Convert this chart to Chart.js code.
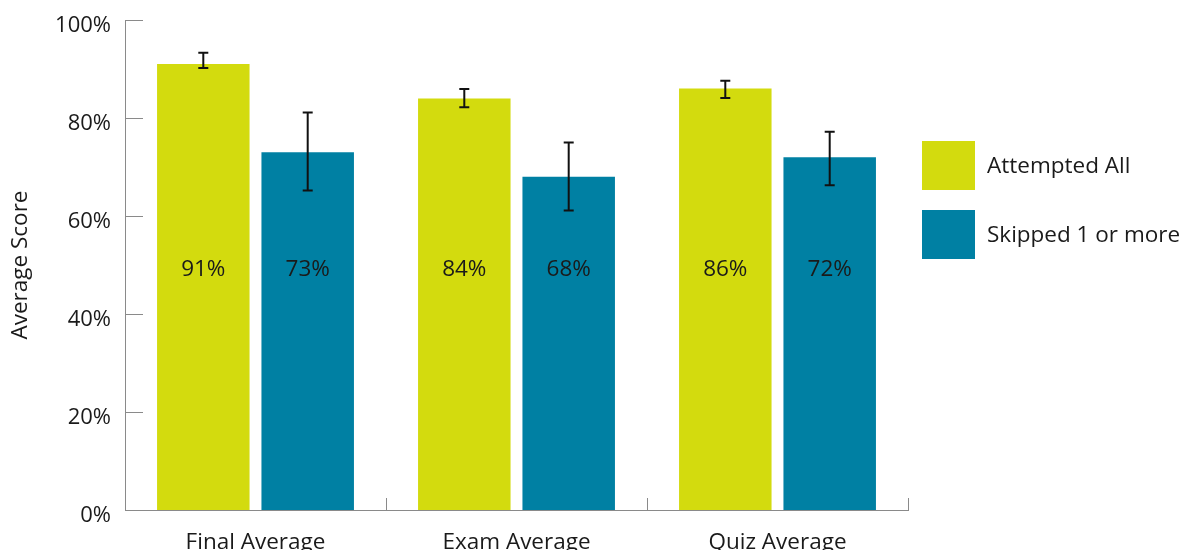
<!DOCTYPE html>
<html>
<head>
<meta charset="utf-8">
<script src="https://cdn.jsdelivr.net/npm/chart.js@4.4.1/dist/chart.umd.min.js"></script>
<style>
    html, body { margin: 0; padding: 0; background: #ffffff; }
    #wrap { width: 1182px; height: 550px; }
</style>
</head>
<body>
<div id="wrap"><canvas id="grafico"></canvas></div>
<script>
// dados
const categorias = ['Final Average', 'Exam Average', 'Quiz Average'];
const series = ['Attempted All', 'Skipped 1 or more'];
const attempted = [91, 84, 86];
const skipped = [73, 68, 72];
const attemptedLow = [90.2, 82.2, 84.1];
const attemptedHigh = [93.3, 85.9, 87.6];
const skippedLow = [65.2, 61.1, 66.3];
const skippedHigh = [81.1, 75.0, 77.2];
const yTicks = [0, 20, 40, 60, 80, 100];

const corVerde = '#d3db0e';
const corAzul = '#0080a3';
const corEixo = '#8a8a8a';
const fonte = "'Open Sans', sans-serif";

Chart.defaults.font.family = fonte;
Chart.defaults.color = '#1a1a1a';

// barras de erro, rotulos de valor, marcas dos eixos e legenda
const extras = {
    id: 'extras',
    afterDatasetsDraw(chart) {
        const ctx = chart.ctx;
        const y = chart.scales.y;
        const x = chart.scales.x;
        const area = chart.chartArea;
        const erros = [[attemptedLow, attemptedHigh], [skippedLow, skippedHigh]];

        ctx.save();
        // marcas do eixo y (para dentro)
        ctx.strokeStyle = corEixo;
        ctx.lineWidth = 1;
        yTicks.forEach(v => {
            const py = Math.round(y.getPixelForValue(v)) + 0.5;
            ctx.beginPath();
            ctx.moveTo(area.left, py);
            ctx.lineTo(area.left + 18, py);
            ctx.stroke();
        });
        // marcas do eixo x entre categorias
        for (let i = 1; i <= categorias.length; i++) {
            const px = Math.round(x.getPixelForValue(i - 0.5)) + 0.5;
            ctx.beginPath();
            ctx.moveTo(px, area.bottom);
            ctx.lineTo(px, area.bottom - 12);
            ctx.stroke();
        }

        chart.data.datasets.forEach((ds, d) => {
            const meta = chart.getDatasetMeta(d);
            meta.data.forEach((bar, i) => {
                const top = y.getPixelForValue(erros[d][1][i]);
                const bot = y.getPixelForValue(erros[d][0][i]);
                ctx.strokeStyle = '#111111';
                ctx.lineWidth = 2;
                ctx.beginPath();
                ctx.moveTo(bar.x, top);
                ctx.lineTo(bar.x, bot);
                ctx.moveTo(bar.x - 5, top);
                ctx.lineTo(bar.x + 5, top);
                ctx.moveTo(bar.x - 5, bot);
                ctx.lineTo(bar.x + 5, bot);
                ctx.stroke();

                // rotulo do valor, um pouco abaixo da linha de 50%
                ctx.fillStyle = '#1a1a1a';
                ctx.font = '22.5px ' + fonte;
                ctx.textAlign = 'center';
                ctx.textBaseline = 'middle';
                ctx.fillText(ds.data[i] + '%', bar.x, y.getPixelForValue(50) + 5);
            });
        });

        // legenda
        const lx = area.right + 14;
        const cores = [corVerde, corAzul];
        series.forEach((nome, i) => {
            const ly = 141 + i * 69;
            ctx.fillStyle = cores[i];
            ctx.fillRect(lx, ly, 53, 49);
            ctx.fillStyle = '#1a1a1a';
            ctx.font = '22.5px ' + fonte;
            ctx.textAlign = 'left';
            ctx.textBaseline = 'middle';
            ctx.fillText(nome, lx + 65, ly + 26);
        });
        ctx.restore();
    }
};

const grafico = new Chart(document.getElementById('grafico'), {
    type: 'bar',
    data: {
        labels: categorias,
        datasets: [
            { label: series[0], data: attempted, backgroundColor: corVerde },
            { label: series[1], data: skipped, backgroundColor: corAzul }
        ]
    },
    options: {
        responsive: true,
        maintainAspectRatio: false,
        animation: false,
        events: [],
        layout: { padding: { top: 20, right: 274, left: 0, bottom: 0 } },
        datasets: { bar: { categoryPercentage: 0.8, barPercentage: 0.886 } },
        plugins: { legend: { display: false }, tooltip: { enabled: false } },
        scales: {
            x: {
                grid: { display: false },
                border: { display: true, color: corEixo, width: 1 },
                ticks: { font: { size: 22.5 }, padding: 11, color: '#1a1a1a' },
                afterFit(scale) { scale.height = 40; }
            },
            y: {
                min: 0,
                max: 100,
                grid: { display: false, drawTicks: false },
                border: { display: true, color: corEixo, width: 1 },
                afterBuildTicks(scale) { scale.ticks = yTicks.map(v => ({ value: v })); },
                ticks: { font: { size: 22 }, padding: 14, labelOffset: 6, color: '#1a1a1a', callback: v => v + '%' },
                title: { display: true, text: 'Average Score', font: { size: 22.5 }, padding: { top: 7 }, color: '#1a1a1a' },
                afterFit(scale) {
                    scale.width = 125;
                    scale.paddingTop = 0;
                    scale.paddingBottom = 0;
                }
            }
        }
    },
    plugins: [extras]
});
</script>
</body>
</html>
